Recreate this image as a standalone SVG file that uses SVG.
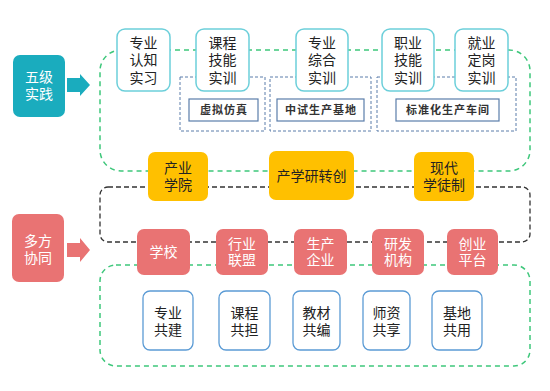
<svg xmlns="http://www.w3.org/2000/svg" width="550" height="391" viewBox="0 0 550 391">
<style>
text{font-family:"Liberation Sans","Noto Sans CJK SC",sans-serif;text-anchor:middle;font-size:14px;fill:#222}
.wt{fill:#fff}
.lbl{font-size:11px;font-weight:bold;letter-spacing:1px;fill:#333}
.gd{fill:none;stroke:#3EC77B;stroke-width:1.5;stroke-dasharray:5 4}
.kd{fill:none;stroke:#333;stroke-width:1.3;stroke-dasharray:5 3}
.bd{fill:none;stroke:#5A7DAA;stroke-width:1;stroke-dasharray:3 2}
.top{fill:#fff;stroke:#6CCFDA;stroke-width:1.5}
.lb{fill:#fff;stroke:#5A7DAA;stroke-width:1.2}
.org{fill:#FFC000}
.pk{fill:#E97373}
.bt{fill:#fff;stroke:#5B9BD5;stroke-width:1.3}
</style>
<g id="connectors">
<rect class="gd" x="100" y="50" width="430" height="121" rx="21"/>
<rect class="kd" x="100" y="187" width="430" height="55" rx="8"/>
<rect class="gd" x="100" y="265" width="430" height="101" rx="16"/>
<rect class="bd" x="180" y="77" width="85" height="54"/>
<rect class="bd" x="270" y="77" width="101" height="54"/>
<rect class="bd" x="377" y="77" width="139" height="54"/>
<polygon fill="#1AACBE" points="67,78 80,78 80,74 90,85 80,96 80,92 67,92"/>
<polygon fill="#E97373" points="67,243 80,243 80,238 90,250 80,262 80,257 67,257"/>
</g>
<g id="n-wuji">
<rect x="13" y="55" width="52" height="62" rx="7" fill="#1AACBE"/>
<text class="wt" x="39" y="82">五级<tspan x="39" dy="17">实践</tspan></text>
</g>
<g id="n-duofang">
<rect x="12" y="214" width="52" height="68" rx="7" fill="#E97373"/>
<text class="wt" x="38" y="246">多方<tspan x="38" dy="17">协同</tspan></text>
</g>
<g id="n-t1">
<rect class="top" x="117" y="29" width="53" height="62" rx="8"/>
<text x="143.5" y="47.5">专业<tspan x="143.5" dy="17.5">认知</tspan><tspan x="143.5" dy="17.5">实习</tspan></text>
</g>
<g id="n-t2">
<rect class="top" x="196" y="29" width="53" height="62" rx="8"/>
<text x="222.5" y="47.5">课程<tspan x="222.5" dy="17.5">技能</tspan><tspan x="222.5" dy="17.5">实训</tspan></text>
</g>
<g id="n-t3">
<rect class="top" x="296" y="29" width="52" height="62" rx="8"/>
<text x="322" y="47.5">专业<tspan x="322" dy="17.5">综合</tspan><tspan x="322" dy="17.5">实训</tspan></text>
</g>
<g id="n-t4">
<rect class="top" x="382" y="29" width="52" height="62" rx="8"/>
<text x="408" y="47.5">职业<tspan x="408" dy="17.5">技能</tspan><tspan x="408" dy="17.5">实训</tspan></text>
</g>
<g id="n-t5">
<rect class="top" x="455" y="29" width="53" height="62" rx="8"/>
<text x="481.5" y="47.5">就业<tspan x="481.5" dy="17.5">定岗</tspan><tspan x="481.5" dy="17.5">实训</tspan></text>
</g>
<g id="n-l1">
<rect class="lb" x="189" y="99" width="69" height="22"/>
<text class="lbl" x="224" y="114">虚拟仿真</text>
</g>
<g id="n-l2">
<rect class="lb" x="277" y="99" width="87" height="22"/>
<text class="lbl" x="321" y="114">中试生产基地</text>
</g>
<g id="n-l3">
<rect class="lb" x="396" y="99" width="103" height="22"/>
<text class="lbl" x="448" y="114">标准化生产车间</text>
</g>
<g id="n-o1">
<rect class="org" x="148" y="152" width="60" height="49" rx="7"/>
<text x="178" y="173">产业<tspan x="178" dy="16.5">学院</tspan></text>
</g>
<g id="n-o2">
<rect class="org" x="269" y="151" width="85" height="49" rx="7"/>
<text x="311.5" y="180.5">产学研转创</text>
</g>
<g id="n-o3">
<rect class="org" x="414" y="152" width="60" height="49" rx="7"/>
<text x="444" y="173">现代<tspan x="444" dy="16.5">学徒制</tspan></text>
</g>
<g id="n-p1">
<rect class="pk" x="137" y="229" width="53" height="46" rx="7"/>
<text class="wt" x="163.5" y="257">学校</text>
</g>
<g id="n-p2">
<rect class="pk" x="216" y="229" width="52" height="46" rx="7"/>
<text class="wt" x="242" y="248.5">行业<tspan x="242" dy="16.5">联盟</tspan></text>
</g>
<g id="n-p3">
<rect class="pk" x="294" y="229" width="53" height="46" rx="7"/>
<text class="wt" x="320.5" y="248.5">生产<tspan x="320.5" dy="16.5">企业</tspan></text>
</g>
<g id="n-p4">
<rect class="pk" x="372" y="229" width="52" height="46" rx="7"/>
<text class="wt" x="398" y="248.5">研发<tspan x="398" dy="16.5">机构</tspan></text>
</g>
<g id="n-p5">
<rect class="pk" x="447" y="229" width="51" height="46" rx="7"/>
<text class="wt" x="472.5" y="248.5">创业<tspan x="472.5" dy="16.5">平台</tspan></text>
</g>
<g id="n-b1">
<rect class="bt" x="143" y="291" width="50" height="59" rx="7"/>
<text x="168" y="318">专业<tspan x="168" dy="16.5">共建</tspan></text>
</g>
<g id="n-b2">
<rect class="bt" x="219" y="291" width="51" height="59" rx="7"/>
<text x="244.5" y="318">课程<tspan x="244.5" dy="16.5">共担</tspan></text>
</g>
<g id="n-b3">
<rect class="bt" x="293" y="291" width="47" height="59" rx="7"/>
<text x="316.5" y="318">教材<tspan x="316.5" dy="16.5">共编</tspan></text>
</g>
<g id="n-b4">
<rect class="bt" x="363" y="291" width="47" height="59" rx="7"/>
<text x="386.5" y="318">师资<tspan x="386.5" dy="16.5">共享</tspan></text>
</g>
<g id="n-b5">
<rect class="bt" x="432" y="291" width="50" height="59" rx="7"/>
<text x="457" y="318">基地<tspan x="457" dy="16.5">共用</tspan></text>
</g>
</svg>
